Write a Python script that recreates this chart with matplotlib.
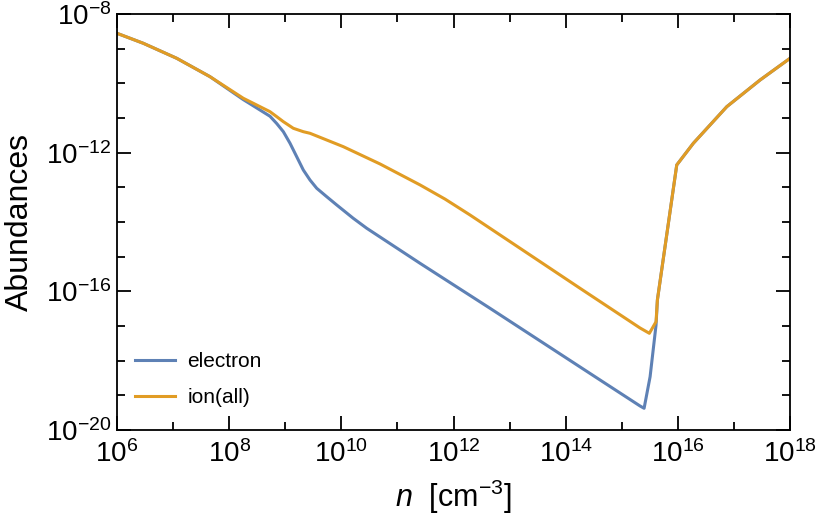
import numpy as np
import matplotlib.pyplot as plt
from matplotlib.ticker import FixedLocator, NullFormatter

plt.rcParams['font.family'] = ['Liberation Sans', 'DejaVu Sans']
plt.rcParams['mathtext.fontset'] = 'custom'
plt.rcParams['mathtext.rm'] = 'Liberation Sans'
plt.rcParams['mathtext.it'] = 'Liberation Sans:italic'

# log10 of density and abundance
elec_logn = [6.0, 6.469, 7.065, 7.658, 8.252, 8.372, 8.728, 8.848, 8.966, 9.085, 9.204, 9.322, 9.441,
             9.561, 9.739, 9.918, 10.21, 10.453,
             11.403, 12.651, 14.613, 15.326, 15.398, 15.505, 15.611, 15.635, 15.980,
             16.276, 16.872, 17.466, 18.0]
elec_logy = [-8.557, -8.845, -9.278, -9.808, -10.470, -10.590, -10.950, -11.160, -11.395, -11.729, -12.116, -12.500, -12.788,
             -13.027, -13.270, -13.509, -13.89, -14.181,
             -15.191, -16.489, -18.557, -19.307, -19.373, -18.462, -16.970, -16.249, -12.355,
             -11.729, -10.674, -9.904, -9.278]

ion_logn = [6.0, 6.469, 7.065, 7.658, 8.252, 8.728, 8.848, 8.966, 9.144, 9.322, 9.441, 10.035, 10.690,
            11.403, 11.85, 12.295,
            13.186, 14.256, 15.326, 15.492, 15.611, 15.635, 15.980, 16.276, 16.872, 17.466, 18.0]
ion_logy = [-8.557, -8.845, -9.278, -9.808, -10.431, -10.818, -10.962, -11.106, -11.297, -11.395, -11.441, -11.827, -12.326,
            -12.930, -13.34, -13.798,
            -14.758, -15.912, -17.057, -17.210, -16.875, -16.249, -12.355, -11.729, -10.674, -9.904, -9.278]

fig = plt.figure(figsize=(8.17, 5.22), dpi=100)
ax = fig.add_axes([0.1432, 0.1762, 0.8238, 0.797])

ax.plot(10.0**np.array(elec_logn), 10.0**np.array(elec_logy), color='#5E81B5', lw=2.2, label='electron')
ax.plot(10.0**np.array(ion_logn), 10.0**np.array(ion_logy), color='#E19C24', lw=2.2, label='ion(all)')

ax.set_xscale('log')
ax.set_yscale('log')
ax.set_xlim(1e6, 1e18)
ax.set_ylim(1e-20, 1e-8)

ax.xaxis.set_major_locator(FixedLocator([10.0**k for k in range(6, 19, 2)]))
ax.xaxis.set_minor_locator(FixedLocator([10.0**k for k in range(7, 18, 2)]))
ax.yaxis.set_major_locator(FixedLocator([10.0**k for k in range(-20, -7, 4)]))
ax.yaxis.set_minor_locator(FixedLocator([10.0**k for k in range(-20, -7) if k % 4 != 0]))
ax.xaxis.set_minor_formatter(NullFormatter())
ax.yaxis.set_minor_formatter(NullFormatter())

ax.tick_params(which='both', direction='in', top=True, right=True, width=1.3, labelsize=20)
ax.tick_params(which='major', length=10)
ax.tick_params(which='minor', length=6)
ax.tick_params(axis='x', pad=7)
ax.tick_params(axis='y', pad=4)
for s in ax.spines.values():
    s.set_linewidth(1.3)

ax.set_xlabel(r'$\mathit{n}$  [cm$^{-3}$]', fontsize=22)
ax.xaxis.set_label_coords(0.5, -0.115)
ax.set_ylabel('Abundances', fontsize=23)
ax.yaxis.set_label_coords(-0.122, 0.5)

ax.legend(loc='lower left', frameon=False, fontsize=15, handlelength=1.9, handletextpad=0.6,
          labelspacing=0.8, borderpad=0, borderaxespad=0, bbox_to_anchor=(0.027, 0.055))

fig.savefig('out.png', dpi=100)
